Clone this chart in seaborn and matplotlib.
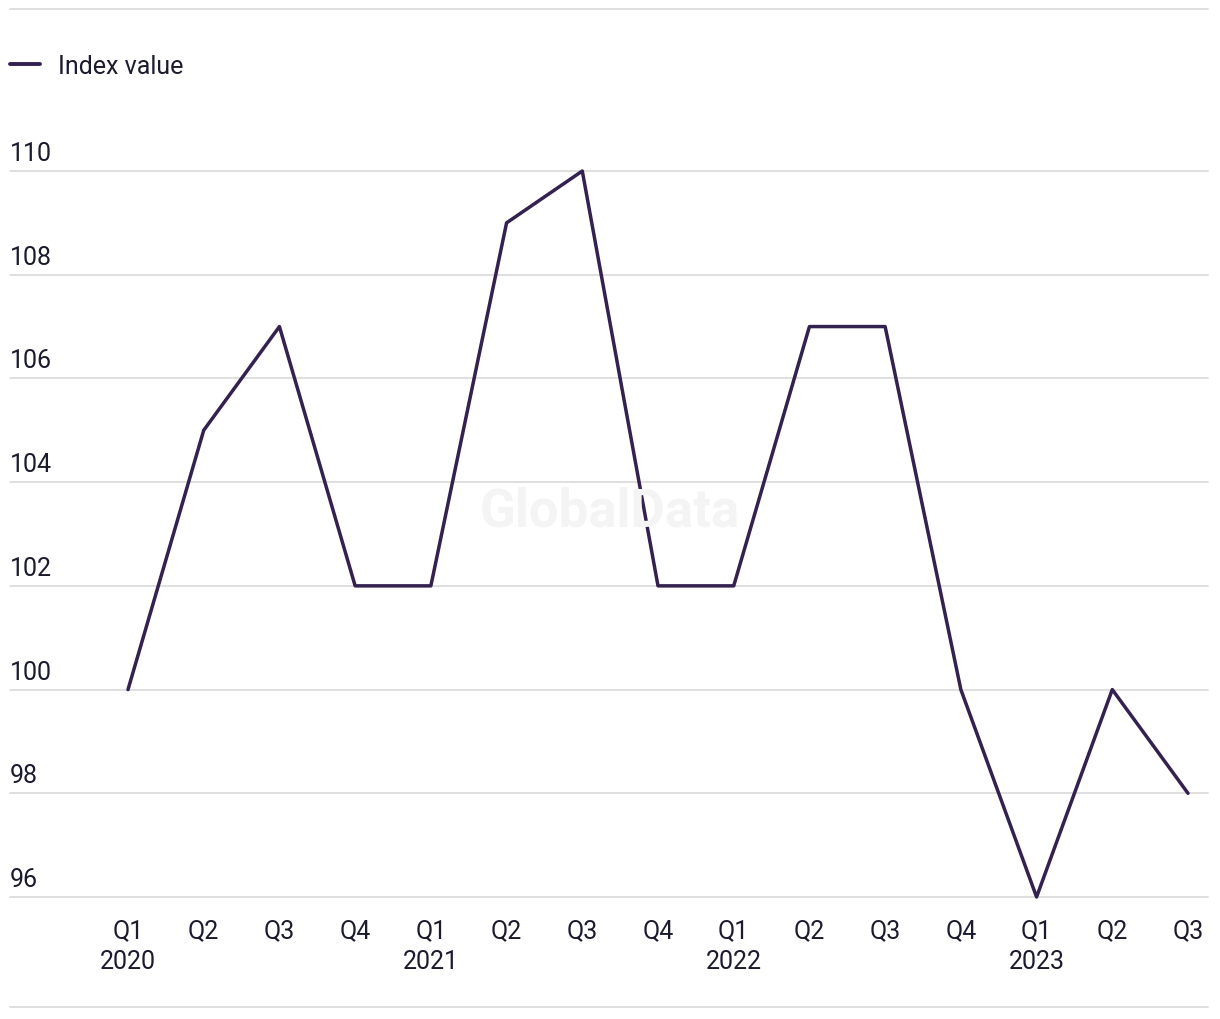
import pandas as pd
import seaborn as sns
import matplotlib.pyplot as plt
from matplotlib.lines import Line2D
import matplotlib.transforms as mtransforms

# veri
quarters = ["Q1", "Q2", "Q3", "Q4", "Q1", "Q2", "Q3", "Q4",
            "Q1", "Q2", "Q3", "Q4", "Q1", "Q2", "Q3"]
years = ["2020", "", "", "", "2021", "", "", "",
         "2022", "", "", "", "2023", "", ""]
index_value = [100, 105, 107, 102, 102, 109, 110, 102,
               102, 107, 107, 100, 96, 100, 98]
y_ticks = [96, 98, 100, 102, 104, 106, 108, 110]

line_color = "#33214f"
text_color = "#1c1b2e"
grid_color = "#d9d9d9"

df = pd.DataFrame({"pos": range(len(index_value)), "value": index_value})
labels = [q + ("\n" + y if y else "") for q, y in zip(quarters, years)]

sns.set_style("white")
plt.rcParams['font.family'] = ['Roboto', 'DejaVu Sans']

fig = plt.figure(figsize=(12.2, 10.2), dpi=100)
W, H = 1220, 1020
ax = fig.add_axes([10 / W, (H - 898) / H, 1198 / W, (898 - 172) / H])

sns.lineplot(data=df, x="pos", y="value", ax=ax, color=line_color,
             linewidth=2.5, clip_on=False)

step = (1188 - 128) / 14
ax.set_xlim(-118 / step, 14 + 20 / step)
ax.set_ylim(96, 110)

# grid
for v in y_ticks:
    ax.axhline(v, color=grid_color, linewidth=1.2, zorder=0, clip_on=False)
ax.set_yticks(y_ticks)
ax.set_yticklabels([])
ax.tick_params(axis="y", length=0)
# etiketler çizginin biraz üstünde
trans = mtransforms.blended_transform_factory(ax.transAxes, ax.transData) + \
    mtransforms.ScaledTranslation(0, 6 / 100, fig.dpi_scale_trans)
for v in y_ticks:
    ax.text(0, v, str(v), transform=trans, ha="left", va="bottom",
            fontsize=18, color=text_color)

ax.set_xticks(range(len(labels)))
ax.set_xticklabels(labels, fontsize=18, color=text_color, linespacing=1.4)
ax.tick_params(axis="x", length=0, pad=15)

for s in ax.spines.values():
    s.set_visible(False)
ax.set_xlabel("")
ax.set_ylabel("")

# üst ve alt çizgiler
fig.add_artist(Line2D([10 / W, 1208 / W], [(H - 10) / H, (H - 10) / H],
                      color=grid_color, linewidth=1.2))
fig.add_artist(Line2D([10 / W, 1208 / W], [(H - 1008) / H, (H - 1008) / H],
                      color=grid_color, linewidth=1.2))

# legend
fig.add_artist(Line2D([10 / W, 40 / W], [(H - 65) / H, (H - 65) / H],
                      color=line_color, linewidth=2.8, solid_capstyle="round"))
fig.text(58 / W, (H - 67) / H, "Index value", fontsize=18, color=text_color,
         ha="left", va="center")

# filigran
fig.text(610 / W, (H - 512) / H, "GlobalData", fontsize=38, color="#f4f4f4",
         ha="center", va="center", fontweight="bold", zorder=0)

fig.savefig("out.png", dpi=100, facecolor="white")
